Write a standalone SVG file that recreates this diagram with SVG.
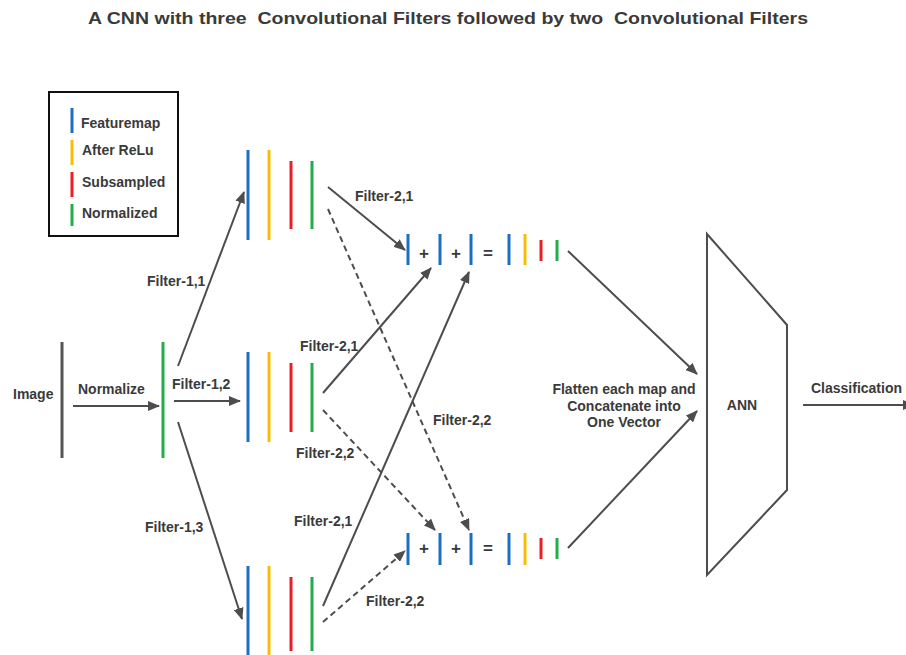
<svg xmlns="http://www.w3.org/2000/svg" width="906" height="655" viewBox="0 0 906 655">
<defs>
<style>
text{font-family:"Liberation Sans",Arial,sans-serif;font-weight:bold;fill:#3a3a3a;white-space:pre}
.lbl{font-size:14px}
.op{font-size:17px}
.c{stroke:#4d4d4d;stroke-width:2;fill:none}
.d{stroke-dasharray:6,4}
.b{stroke:#1b6ec2;stroke-width:3}
.y{stroke:#fbbc05;stroke-width:3}
.r{stroke:#ee1c25;stroke-width:3}
.g{stroke:#22ad4b;stroke-width:3}
</style>
<marker id="ah" viewBox="0 0 12 10" refX="11" refY="5" markerWidth="12" markerHeight="10" markerUnits="userSpaceOnUse" orient="auto">
<path d="M0,0 L12,5 L0,10 z" fill="#4d4d4d"/>
</marker>
</defs>
<rect width="906" height="655" fill="#fff"/>
<text x="448" y="24" font-size="17" text-anchor="middle" textLength="720" lengthAdjust="spacingAndGlyphs">A CNN with three  Convolutional Filters followed by two  Convolutional Filters</text>

<g id="legend">
<rect x="49" y="92" width="129" height="144" fill="#fff" stroke="#111" stroke-width="2"/>
<line class="b" x1="72" y1="108" x2="72" y2="133"/>
<line class="y" x1="72" y1="140" x2="72" y2="165"/>
<line class="r" x1="72" y1="172" x2="72" y2="197"/>
<line class="g" x1="72" y1="204" x2="72" y2="226"/>
<text class="lbl" x="81" y="128">Featuremap</text>
<text class="lbl" x="82" y="155">After ReLu</text>
<text class="lbl" x="82" y="187">Subsampled</text>
<text class="lbl" x="82" y="218">Normalized</text>
</g>

<g id="image">
<line x1="62" y1="342" x2="62" y2="458" stroke="#555" stroke-width="3"/>
<text class="lbl" x="13" y="399">Image</text>
</g>

<g id="normalized">
<line class="g" x1="163" y1="342" x2="163" y2="458"/>
</g>

<g id="stack1">
<line class="b" x1="248" y1="150" x2="248" y2="240"/>
<line class="y" x1="269" y1="150" x2="269" y2="240"/>
<line class="r" x1="291" y1="161" x2="291" y2="229"/>
<line class="g" x1="312" y1="161" x2="312" y2="229"/>
</g>
<g id="stack2">
<line class="b" x1="248" y1="352" x2="248" y2="442"/>
<line class="y" x1="269" y1="352" x2="269" y2="442"/>
<line class="r" x1="291" y1="363" x2="291" y2="432"/>
<line class="g" x1="312" y1="363" x2="312" y2="432"/>
</g>
<g id="stack3">
<line class="b" x1="248" y1="566" x2="248" y2="656"/>
<line class="y" x1="269" y1="566" x2="269" y2="656"/>
<line class="r" x1="291" y1="577" x2="291" y2="651"/>
<line class="g" x1="312" y1="577" x2="312" y2="651"/>
</g>

<g id="sum1">
<line class="b" x1="408" y1="234" x2="408" y2="265"/>
<line class="b" x1="440" y1="234" x2="440" y2="265"/>
<line class="b" x1="471" y1="234" x2="471" y2="265"/>
<text class="op" x="424" y="259" text-anchor="middle">+</text>
<text class="op" x="456" y="259" text-anchor="middle">+</text>
<text class="op" x="488" y="259" text-anchor="middle">=</text>
<line class="b" x1="509" y1="234" x2="509" y2="265"/>
<line class="y" x1="525" y1="234" x2="525" y2="265"/>
<line class="r" x1="541" y1="240" x2="541" y2="261"/>
<line class="g" x1="557" y1="240" x2="557" y2="261"/>
</g>
<g id="sum2">
<line class="b" x1="408" y1="533" x2="408" y2="565"/>
<line class="b" x1="440" y1="533" x2="440" y2="565"/>
<line class="b" x1="471" y1="533" x2="471" y2="565"/>
<text class="op" x="424" y="554" text-anchor="middle">+</text>
<text class="op" x="456" y="554" text-anchor="middle">+</text>
<text class="op" x="488" y="554" text-anchor="middle">=</text>
<line class="b" x1="509" y1="533" x2="509" y2="565"/>
<line class="y" x1="525" y1="533" x2="525" y2="565"/>
<line class="r" x1="541" y1="538" x2="541" y2="559"/>
<line class="g" x1="557" y1="538" x2="557" y2="559"/>
</g>

<g id="ann">
<polygon points="707,234 787,325 787,490 707,575" fill="#fff" stroke="#4d4d4d" stroke-width="2"/>
<text class="lbl" x="742" y="410" text-anchor="middle">ANN</text>
</g>

<g id="connectors">
<line class="c" x1="73" y1="406" x2="159" y2="406" marker-end="url(#ah)"/>
<line class="c" x1="174" y1="401" x2="240" y2="401" marker-end="url(#ah)"/>
<line class="c" x1="178" y1="366" x2="244" y2="192" marker-end="url(#ah)"/>
<line class="c" x1="178" y1="422" x2="242" y2="619" marker-end="url(#ah)"/>

<line class="c" x1="328" y1="187" x2="405" y2="250" marker-end="url(#ah)"/>
<line class="c d" x1="328" y1="209" x2="469" y2="530" marker-end="url(#ah)"/>
<line class="c" x1="323" y1="393" x2="431" y2="268" marker-end="url(#ah)"/>
<line class="c d" x1="323" y1="410" x2="435" y2="530" marker-end="url(#ah)"/>
<line class="c" x1="323" y1="606" x2="469" y2="272" marker-end="url(#ah)"/>
<line class="c d" x1="323" y1="622" x2="405" y2="551" marker-end="url(#ah)"/>

<line class="c" x1="568" y1="251" x2="697" y2="374" marker-end="url(#ah)"/>
<line class="c" x1="568" y1="548" x2="697" y2="411" marker-end="url(#ah)"/>
<line class="c" x1="803" y1="405" x2="914" y2="405" marker-end="url(#ah)"/>
</g>

<g id="labels">
<text class="lbl" x="78" y="394">Normalize</text>
<text class="lbl" x="172" y="389">Filter-1,2</text>
<text class="lbl" x="147" y="286">Filter-1,1</text>
<text class="lbl" x="145" y="532">Filter-1,3</text>
<text class="lbl" x="355" y="201">Filter-2,1</text>
<text class="lbl" x="300" y="351">Filter-2,1</text>
<text class="lbl" x="296" y="458">Filter-2,2</text>
<text class="lbl" x="433" y="425">Filter-2,2</text>
<text class="lbl" x="294" y="526">Filter-2,1</text>
<text class="lbl" x="366" y="606">Filter-2,2</text>
<text class="lbl" x="624" y="394" text-anchor="middle">Flatten each map and</text>
<text class="lbl" x="624" y="411" text-anchor="middle">Concatenate into</text>
<text class="lbl" x="624" y="427" text-anchor="middle">One Vector</text>
<text class="lbl" x="811" y="393">Classification</text>
</g>
</svg>
